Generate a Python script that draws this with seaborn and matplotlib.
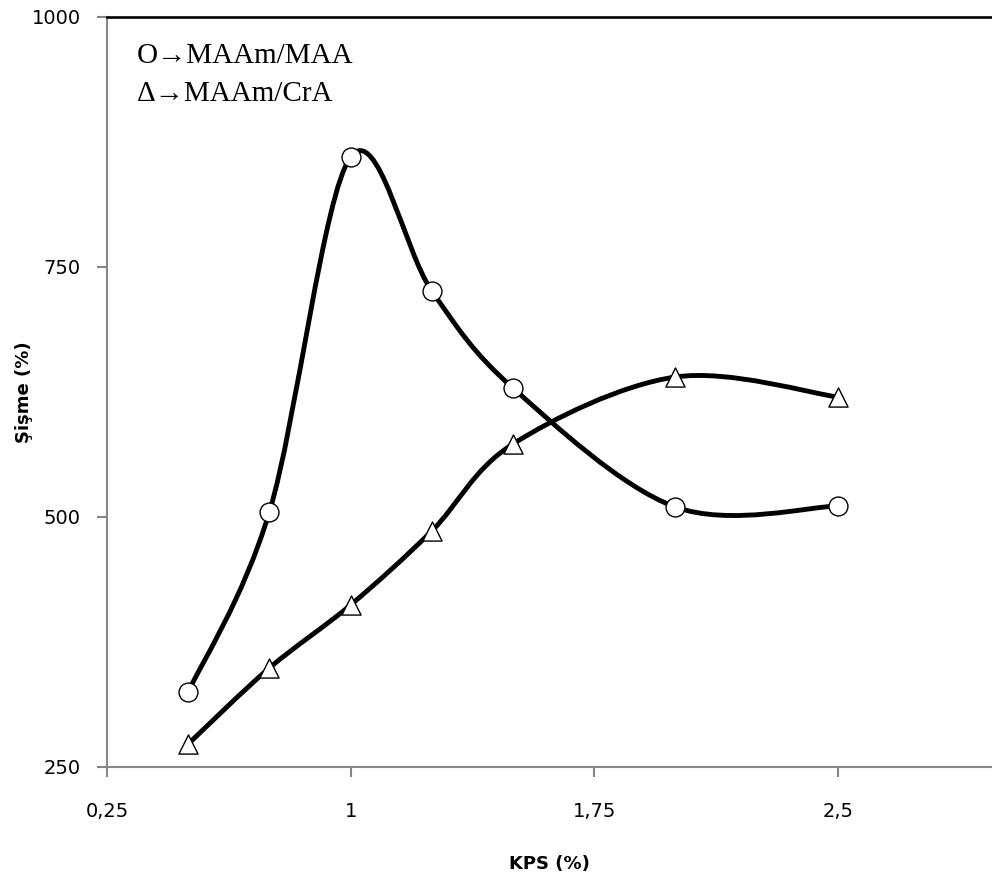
import numpy as np
import pandas as pd
import matplotlib
matplotlib.use("Agg")
import matplotlib.pyplot as plt
from matplotlib.path import Path
from matplotlib.patches import PathPatch
import seaborn as sns

# KPS (%) on the x axis
kps = [0.5, 0.75, 1.0, 1.25, 1.5, 2.0, 2.5]
# swelling (%) for each gel
maam_maa = [325, 505, 860, 726, 629, 510, 511]
maam_cra = [273, 349, 412, 486, 573, 640, 620]

x_ticks = [0.25, 1.0, 1.75, 2.5]
x_ticklabels = ["0,25", "1", "1,75", "2,5"]
y_ticks = [250, 500, 750, 1000]


def smooth_path(xs, ys):
    # excel style smoothed line: bezier segments, catmull-rom control points
    pts = np.column_stack([xs, ys]).astype(float)
    ext = np.vstack([pts[0], pts, pts[-1]])
    verts = [tuple(pts[0])]
    codes = [Path.MOVETO]
    for i in range(1, len(ext) - 2):
        p0, p1, p2, p3 = ext[i - 1], ext[i], ext[i + 1], ext[i + 2]
        c1 = p1 + (p2 - p0) / 6
        c2 = p2 - (p3 - p1) / 6
        verts += [tuple(c1), tuple(c2), tuple(p2)]
        codes += [Path.CURVE4] * 3
    return Path(verts, codes)


sns.set_style("white")
plt.rcParams["font.family"] = ["DejaVu Sans"]
plt.rcParams["text.color"] = "black"
plt.rcParams["axes.labelcolor"] = "black"

fig = plt.figure(figsize=(9.92, 8.77), dpi=100)
ax = fig.add_axes([107 / 992, 1 - 767 / 877, 885 / 992, 750 / 877])

for ys in (maam_maa, maam_cra):
    ax.add_patch(PathPatch(smooth_path(kps, ys), fill=False, edgecolor="black",
                           lw=3.5, capstyle="round", joinstyle="round", zorder=2))

df = pd.DataFrame({"kps": kps, "maa": maam_maa, "cra": maam_cra})
sns.scatterplot(data=df, x="kps", y="maa", marker="o", s=185, color="white",
                edgecolor="black", linewidth=1.0, ax=ax, zorder=3)
sns.scatterplot(data=df, x="kps", y="cra", marker="^", s=190, color="white",
                edgecolor="black", linewidth=1.0, ax=ax, zorder=3)

ax.set_xlim(0.25, 2.975)
ax.set_ylim(250, 1000)
ax.set_xticks(x_ticks)
ax.set_xticklabels(x_ticklabels)
ax.set_yticks(y_ticks)

for s in ("left", "bottom"):
    ax.spines[s].set_color("#868686")
    ax.spines[s].set_linewidth(1.5)
ax.spines["top"].set_color("black")
ax.spines["top"].set_linewidth(1.9)
ax.spines["right"].set_visible(False)

ax.tick_params(axis="both", direction="out", length=7, width=1.5, color="#868686",
               labelsize=14, labelcolor="black")
ax.tick_params(axis="x", pad=18, bottom=True)
ax.tick_params(axis="y", pad=12, left=True)

ax.set_xlabel("KPS (%)", fontsize=13, fontweight="bold", color="black")
ax.set_ylabel("Şişme (%)", fontsize=13, fontweight="bold", color="black")
ax.xaxis.set_label_coords(0.5, -(855 - 767) / 750)
ax.yaxis.set_label_coords(-(107 - 33) / 885, 0.5)

serif = ["Liberation Serif", "DejaVu Serif"]
tx = (137 - 107) / 885
ax.text(tx, 1 - (63 - 17) / 750, "O→MAAm/MAA", color="black",
        transform=ax.transAxes, fontsize=21, family=serif, va="baseline")
ax.text(tx, 1 - (101 - 17) / 750, "Δ→MAAm/CrA", color="black",
        transform=ax.transAxes, fontsize=21, family=serif, va="baseline")

ax.grid(False)
fig.savefig("out.png", dpi=100, facecolor="white")
